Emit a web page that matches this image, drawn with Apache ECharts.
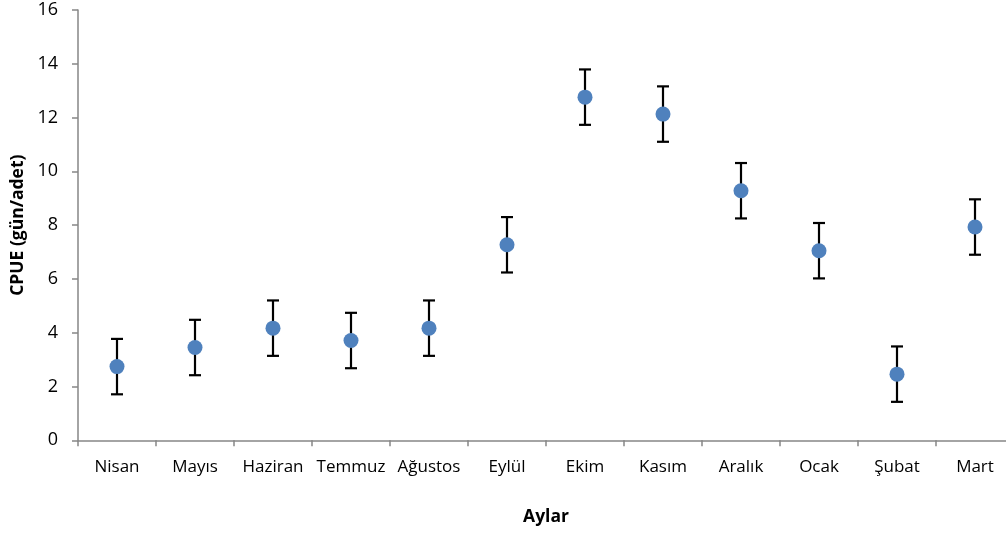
<!DOCTYPE html>
<html>
<head>
<meta charset="utf-8">
<script src="https://cdn.jsdelivr.net/npm/echarts@6/dist/echarts.min.js"></script>
<style>
  html, body { margin: 0; padding: 0; background: #fff; }
  #chart { width: 1006px; height: 533px; }
</style>
</head>
<body>
<div id="chart"></div>
<script>
// Monthly CPUE (gün/adet) with error margins
const months = ['Nisan', 'Mayıs', 'Haziran', 'Temmuz', 'Ağustos', 'Eylül', 'Ekim', 'Kasım', 'Aralık', 'Ocak', 'Şubat', 'Mart'];
const cpue = [2.74, 3.45, 4.17, 3.71, 4.17, 7.27, 12.76, 12.13, 9.28, 7.05, 2.46, 7.93];
const errors = [1.03, 1.03, 1.03, 1.03, 1.03, 1.03, 1.03, 1.03, 1.03, 1.03, 1.03, 1.03];
const yTicks = [0, 2, 4, 6, 8, 10, 12, 14, 16];

const FONT = 'Open Sans';
const chart = echarts.init(document.getElementById('chart'));

const errorData = cpue.map((v, i) => [i, v - errors[i], v + errors[i]]);

chart.setOption({
  animation: false,
  backgroundColor: '#fff',
  grid: { left: 78, top: 10, width: 936, bottom: 92.7, containLabel: false, outerBoundsMode: 'none' },
  xAxis: {
    type: 'category',
    data: months,
    boundaryGap: true,
    name: 'Aylar',
    nameLocation: 'middle',
    nameGap: 68,
    nameTextStyle: { fontFamily: FONT, fontSize: 17.5, fontWeight: 'bold', color: '#000' },
    axisLine: { lineStyle: { color: '#868686', width: 1.5 } },
    axisTick: { show: true, length: 6, alignWithLabel: false, lineStyle: { color: '#868686', width: 1.5 } },
    axisLabel: { interval: 0, margin: 18, fontFamily: FONT, fontSize: 17, color: '#000' },
    splitLine: { show: false }
  },
  yAxis: {
    type: 'value',
    min: yTicks[0],
    max: yTicks[yTicks.length - 1],
    interval: 2,
    name: 'CPUE (gün/adet)',
    nameLocation: 'middle',
    nameRotate: 90,
    nameGap: 50,
    nameTextStyle: { fontFamily: FONT, fontSize: 17.5, fontWeight: 'bold', color: '#000' },
    axisLine: { show: true, lineStyle: { color: '#868686', width: 1.5 } },
    axisTick: { show: true, length: 6, lineStyle: { color: '#868686', width: 1.5 } },
    axisLabel: { margin: 20, fontFamily: FONT, fontSize: 18, color: '#000' },
    splitLine: { show: false }
  },
  series: [
    {
      type: 'custom',
      name: 'errors',
      data: errorData,
      z: 1,
      renderItem: function (params, api) {
        const x = api.value(0);
        const low = api.coord([x, api.value(1)]);
        const high = api.coord([x, api.value(2)]);
        const half = 6;
        const style = { stroke: '#000', lineWidth: 2.2, fill: null };
        return {
          type: 'group',
          children: [
            { type: 'line', shape: { x1: high[0], y1: high[1], x2: low[0], y2: low[1] }, style: style },
            { type: 'line', shape: { x1: high[0] - half, y1: high[1], x2: high[0] + half, y2: high[1] }, style: style },
            { type: 'line', shape: { x1: low[0] - half, y1: low[1], x2: low[0] + half, y2: low[1] }, style: style }
          ]
        };
      }
    },
    {
      type: 'scatter',
      name: 'CPUE',
      data: cpue,
      z: 3,
      symbol: 'circle',
      symbolSize: 15,
      itemStyle: { color: '#4F81BD', opacity: 1 }
    }
  ]
});
</script>
</body>
</html>
